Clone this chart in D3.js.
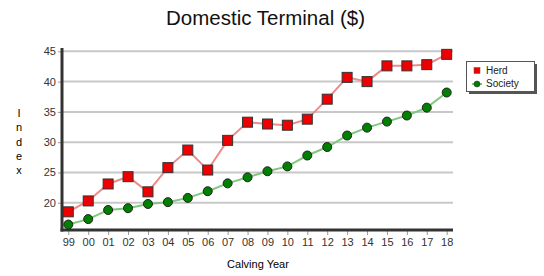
<!DOCTYPE html>
<html><head><meta charset="utf-8">
<script src="https://cdn.jsdelivr.net/npm/d3@7"></script>
<style>body{margin:0;background:#fff}svg{display:block}</style>
</head><body><svg id="c" width="544" height="276"></svg>
<script>
const years = ["99","00","01","02","03","04","05","06","07","08","09","10","11","12","13","14","15","16","17","18"];
const herd = [18.5,20.3,23.1,24.3,21.8,25.8,28.7,25.4,30.3,33.3,33.0,32.8,33.8,37.1,40.7,40.0,42.6,42.6,42.8,44.5];
const society = [16.4,17.3,18.8,19.1,19.8,20.1,20.8,21.9,23.2,24.2,25.2,26.0,27.8,29.2,31.1,32.4,33.4,34.4,35.7,38.2];
const yTicks = [20,25,30,35,40,45];
const seriesNames = ["Herd","Society"];

const svg = d3.select("#c");
const x = d3.scalePoint().domain(years).range([68.3,446.7]);
const y = d3.scaleLinear().domain([15.5,45.5]).range([230,48.3]);
const font = "Liberation Sans, Arial, sans-serif";

svg.append("text").attr("x",265.5).attr("y",25).attr("text-anchor","middle")
  .attr("font-family",font).attr("font-size",20.5).attr("fill","#111").text("Domestic Terminal ($)");

// gridlines
svg.append("g").selectAll("line").data(yTicks).join("line")
  .attr("x1",62).attr("x2",453).attr("y1",d=>y(d)).attr("y2",d=>y(d))
  .attr("stroke","#c8c8c8").attr("stroke-width",2);

// y axis
const ya = svg.append("g").attr("transform","translate(62,0)")
  .call(d3.axisLeft(y).tickValues(yTicks).tickSize(4).tickPadding(2));
ya.select(".domain").remove();
ya.selectAll(".tick line").attr("stroke","#999");
ya.selectAll("text").attr("font-family",font).attr("font-size",11).attr("fill","#333");
svg.append("line").attr("x1",62).attr("x2",62).attr("y1",48).attr("y2",231.5).attr("stroke","#333").attr("stroke-width",3);

// x axis
const xa = svg.append("g").attr("transform","translate(0,230)")
  .call(d3.axisBottom(x).tickSize(4).tickPadding(4));
xa.select(".domain").remove();
xa.selectAll(".tick line").attr("stroke","#999").attr("transform","translate(0,1)");
xa.selectAll("text").attr("font-family",font).attr("font-size",11).attr("fill","#333");
svg.append("line").attr("x1",60.5).attr("x2",453).attr("y1",230).attr("y2",230).attr("stroke","#333").attr("stroke-width",3);

svg.append("text").attr("x",258).attr("y",268).attr("text-anchor","middle")
  .attr("font-family",font).attr("font-size",11).text("Calving Year");
svg.append("g").selectAll("text").data("Index".split("")).join("text")
  .attr("x",19).attr("y",(d,i)=>117+i*14.3).attr("text-anchor","middle")
  .attr("font-family",font).attr("font-size",11).text(d=>d);

const line = d3.line().x((d,i)=>x(years[i])).y(d=>y(d));
svg.append("path").datum(society).attr("d",line).attr("fill","none").attr("stroke","#80c880").attr("stroke-width",2);
svg.append("path").datum(herd).attr("d",line).attr("fill","none").attr("stroke","#f08a8a").attr("stroke-width",2);

svg.append("g").selectAll("circle").data(society).join("circle")
  .attr("cx",(d,i)=>x(years[i])).attr("cy",d=>y(d)).attr("r",4.5)
  .attr("fill","#008000").attr("stroke","#222").attr("stroke-width",1);
svg.append("g").selectAll("rect").data(herd).join("rect")
  .attr("x",(d,i)=>x(years[i])-5).attr("y",d=>y(d)-5).attr("width",10).attr("height",10)
  .attr("fill","#ee0000").attr("stroke","#333").attr("stroke-width",1);

// legend
const lg = svg.append("g");
lg.append("rect").attr("x",469).attr("y",64).attr("width",68).attr("height",30).attr("fill","#555");
lg.append("rect").attr("x",466.5).attr("y",61.5).attr("width",68).attr("height",30).attr("fill","#fff").attr("stroke","#555").attr("stroke-width",1);
lg.append("rect").attr("x",474).attr("y",67.5).attr("width",6).attr("height",6).attr("fill","#ee0000").attr("stroke","#555").attr("stroke-width",0.5);
lg.append("line").attr("x1",472).attr("x2",482).attr("y1",84).attr("y2",84).attr("stroke","#80c880").attr("stroke-width",2);
lg.append("circle").attr("cx",477).attr("cy",84).attr("r",3).attr("fill","#008000").attr("stroke","#222").attr("stroke-width",0.5);
lg.selectAll("text.l").data(seriesNames).join("text")
  .attr("x",486).attr("y",(d,i)=>74+i*13).attr("font-family",font).attr("font-size",10).attr("fill","#222").text(d=>d);
</script></body></html>
